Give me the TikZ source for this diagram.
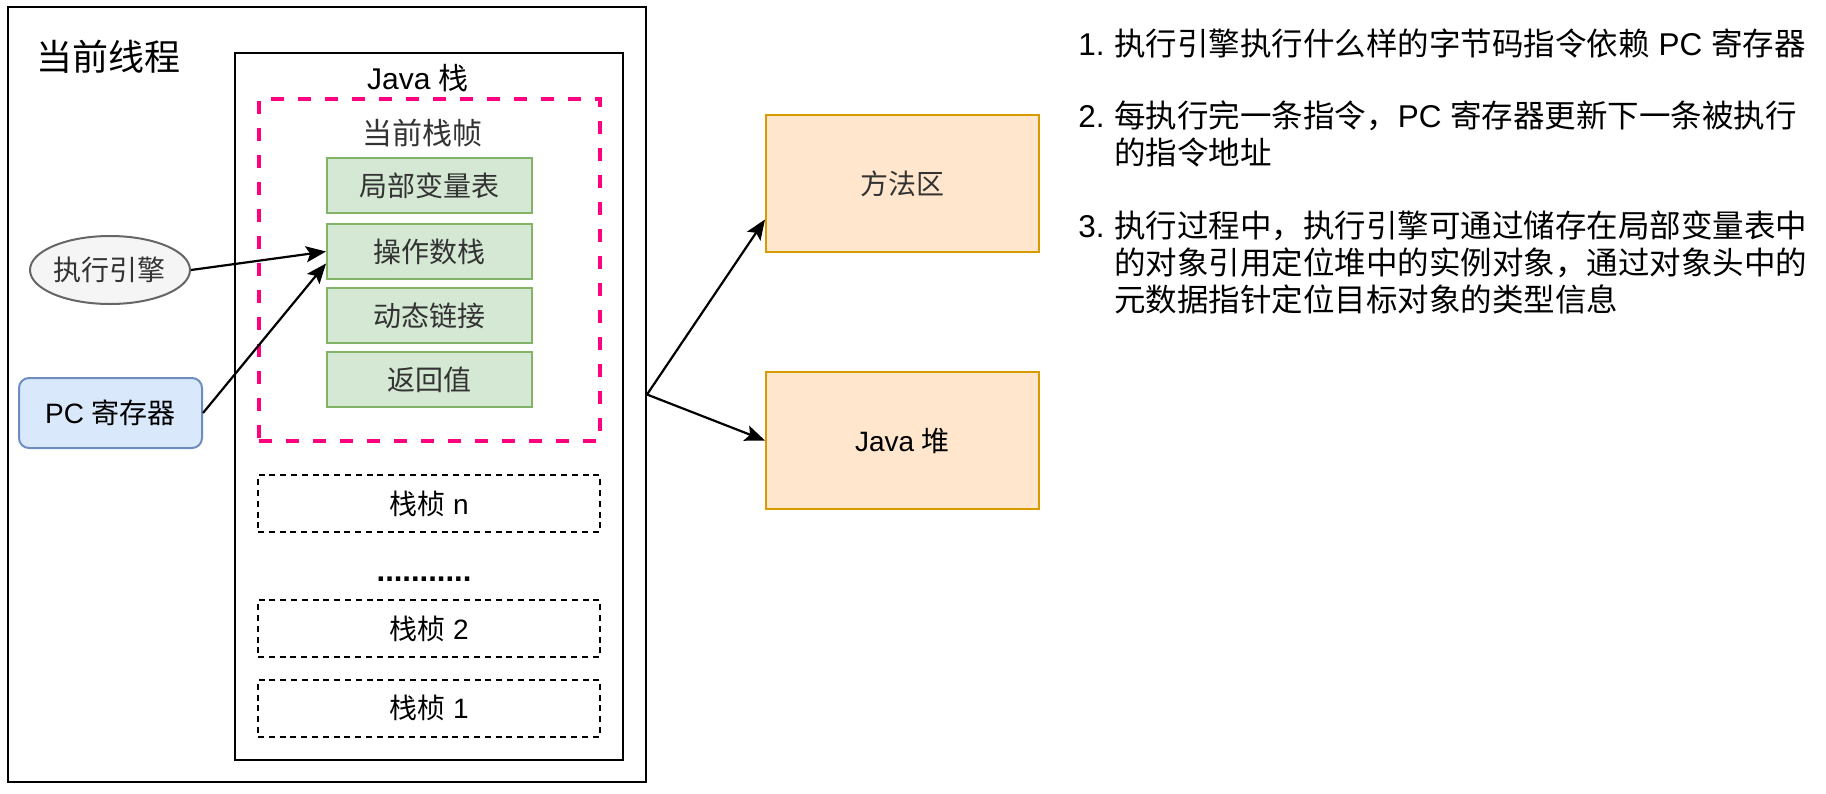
\documentclass[tikz,border=0pt]{standalone}
\usepackage{fontspec}
\setmainfont{Liberation Sans}
\newfontfamily\cjk{Noto Sans CJK SC}
\usepackage{xcolor}
\usetikzlibrary{shapes, arrows.meta, positioning}
\definecolor{partfill}{HTML}{D5E8D4}
\definecolor{partline}{HTML}{82B366}
\definecolor{areafill}{HTML}{FFE6CC}
\definecolor{arealine}{HTML}{D79B00}
\definecolor{pcfill}{HTML}{DAE8FC}
\definecolor{pcline}{HTML}{6C8EBF}
\definecolor{eefill}{HTML}{F5F5F5}
\definecolor{eeline}{HTML}{666666}
\definecolor{softtext}{HTML}{333333}
\definecolor{framepink}{HTML}{FF0080}

\begin{document}
\begin{tikzpicture}[x=0.5pt,y=-0.5pt,
  frm/.style={draw, line width=1pt, inner sep=0pt},
  part/.style={draw=partline, fill=partfill, line width=1pt, minimum width=102.5pt, minimum height=27.5pt, font=\cjk\fontsize{14}{16}\selectfont, text=softtext},
  oldframe/.style={draw, dash pattern=on 3pt off 2.4pt, line width=1pt, minimum width=171pt, minimum height=28.5pt, font=\fontsize{14}{16}\selectfont},
  area/.style={draw=arealine, fill=areafill, line width=1pt, minimum width=136.5pt, minimum height=68.5pt, font=\fontsize{14}{16}\selectfont},
  link/.style={-{Stealth[length=10pt,width=8pt,inset=2pt]}, line width=1.1pt},
  note/.style={anchor=north west, inner sep=0pt, align=left, font=\fontsize{15.75}{18.5}\selectfont}]
  \useasboundingbox (0,0) rectangle (1826,793);

  % thread and its java stack
  \node[frm, minimum width=319pt, minimum height=387.5pt] (thread) at (327,394.5) {};
  \node[font=\cjk\fontsize{18}{20}\selectfont] (threadlbl) at (108,57) {当前线程};
  \node[frm, minimum width=194pt, minimum height=353.5pt] (jstack) at (429,406.5) {};
  \node[font=\fontsize{15}{17}\selectfont] (jstacklbl) at (418,78) {Java {\cjk 栈}};

  % current frame
  \node[draw=framepink, dash pattern=on 6.5pt off 7pt, line width=1.6pt, minimum width=170.5pt, minimum height=171pt] (frame) at (429.5,270) {};
  \node[font=\cjk\fontsize{15}{17}\selectfont, text=softtext] (framelbl) at (422.5,133) {当前栈帧};
  \node[part] (lvt) at (429.5,185.5) {局部变量表};
  \node[part] (ops) at (429.5,251.5) {操作数栈};
  \node[part] (dyn) at (429.5,315.5) {动态链接};
  \node[part] (ret) at (429.5,379.5) {返回值};

  % older frames
  \node[oldframe] (sfn) at (429,503.5) {{\cjk 栈桢} n};
  \node[font=\bfseries\fontsize{15.5}{17}\selectfont, anchor=base] (dots) at (424,581) {...........};
  \node[oldframe] (sf2) at (429,628.5) {{\cjk 栈桢} 2};
  \node[oldframe] (sf1) at (429,708) {{\cjk 栈桢} 1};

  \node[ellipse, draw=eeline, fill=eefill, line width=1pt, inner sep=0pt, minimum width=80pt, minimum height=34pt, font=\cjk\fontsize{14}{16}\selectfont, text=softtext] (engine) at (110,270) {执行引擎};
  \node[draw=pcline, fill=pcfill, line width=1pt, rounded corners=5pt, minimum width=91.5pt, minimum height=35pt, font=\fontsize{14}{16}\selectfont] (pc) at (110.5,413) {PC {\cjk 寄存器}};

  \node[area, text=softtext] (method) at (902.5,183.5) {\cjk 方法区};
  \node[area] (heap) at (902.5,440.5) {Java {\cjk 堆}};

  \draw[link] (engine.east) -- (ops.west);
  \draw[link] (pc.east) -- ([yshift=-6pt]ops.west);
  \draw[link] (thread.east) -- ([yshift=-18pt]method.west);
  \draw[link] (thread.east) -- (heap.west);

  % notes
  \node[note] (note1) at (1078,28) {\makebox[18pt][l]{1.}{\cjk 执行引擎执行什么样的字节码指令依赖} PC {\cjk 寄存器}};
  \node[note] (note2) at (1078,100) {\makebox[18pt][l]{2.}{\cjk 每执行完一条指令，}PC {\cjk 寄存器更新下一条被执行}\\
    \hspace*{18pt}{\cjk 的指令地址}};
  \node[note] (note3) at (1078,210) {\makebox[18pt][l]{3.}{\cjk 执行过程中，执行引擎可通过储存在局部变量表中}\\
    \hspace*{18pt}{\cjk 的对象引用定位堆中的实例对象，通过对象头中的}\\
    \hspace*{18pt}{\cjk 元数据指针定位目标对象的类型信息}};
\end{tikzpicture}
\end{document}
